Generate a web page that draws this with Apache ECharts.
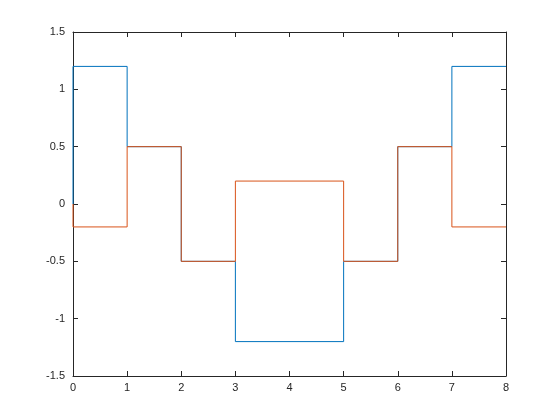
<!DOCTYPE html>
<html>
<head>
<meta charset="utf-8">
<script src="https://cdn.jsdelivr.net/npm/echarts@6/dist/echarts.min.js"></script>
<style>
  html, body { margin: 0; padding: 0; background: #fff; }
  #chart { width: 560px; height: 420px; }
</style>
</head>
<body>
<div id="chart"></div>
<script>
// step waveforms, jumps drawn as repeated x values
const blueX = [0, 0, 1, 1, 2, 2, 3, 3, 5, 5, 6, 6, 7, 7, 8];
const blueY = [0, 1.2, 1.2, 0.5, 0.5, -0.5, -0.5, -1.2, -1.2, -0.5, -0.5, 0.5, 0.5, 1.2, 1.2];
const orangeX = [0, 0, 1, 1, 2, 2, 3, 3, 5, 5, 6, 6, 7, 7, 8];
const orangeY = [0, -0.2, -0.2, 0.5, 0.5, -0.5, -0.5, 0.2, 0.2, -0.5, -0.5, 0.5, 0.5, -0.2, -0.2];

const toPairs = (xs, ys) => xs.map((x, i) => [x, ys[i]]);

const axisColor = "#262626";
const font = { fontFamily: "Liberation Sans, Arial, sans-serif", fontSize: 11, color: axisColor };

function makeAxis(extra) {
  return Object.assign({
    type: "value",
    axisLine: { show: true, onZero: false, lineStyle: { color: axisColor, width: 1 } },
    axisTick: { show: true, inside: true, length: 5, lineStyle: { color: axisColor } },
    splitLine: { show: false },
  }, extra);
}

const chart = echarts.init(document.getElementById("chart"), null, { renderer: "canvas" });
chart.setOption({
  backgroundColor: "#ffffff",
  animation: false,
  grid: { left: 73, right: 54, top: 32, bottom: 44 },
  xAxis: [
    makeAxis({ min: 0, max: 8, interval: 1, position: "bottom",
      axisLabel: Object.assign({ margin: 6 }, font) }),
    makeAxis({ min: 0, max: 8, interval: 1, position: "top", axisLabel: { show: false } }),
  ],
  yAxis: [
    makeAxis({ min: -1.5, max: 1.5, interval: 0.5, position: "left",
      axisLabel: Object.assign({ margin: 8 }, font) }),
    makeAxis({ min: -1.5, max: 1.5, interval: 0.5, position: "right", axisLabel: { show: false } }),
  ],
  series: [
    {
      type: "line",
      data: toPairs(blueX, blueY),
      showSymbol: false,
      lineStyle: { color: "#0072BD", width: 1 },
      itemStyle: { color: "#0072BD" },
    },
    {
      type: "line",
      data: toPairs(orangeX, orangeY),
      showSymbol: false,
      lineStyle: { color: "#D95319", width: 1 },
      itemStyle: { color: "#D95319" },
    },
  ],
});
</script>
</body>
</html>
